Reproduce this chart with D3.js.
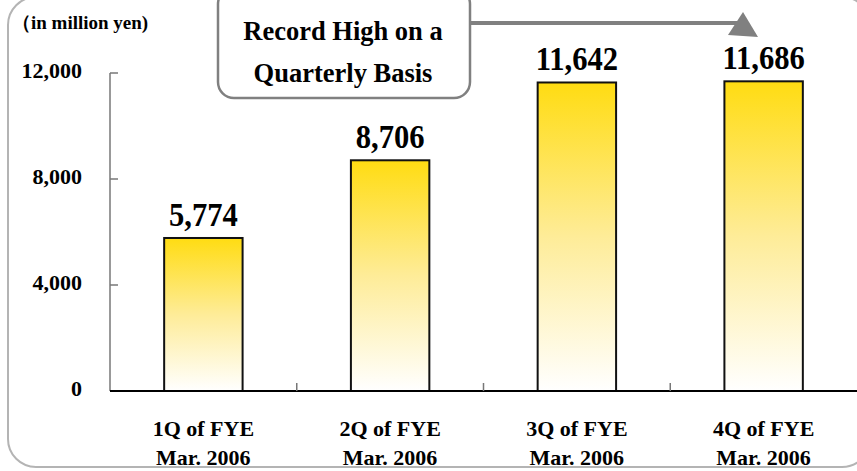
<!DOCTYPE html>
<html>
<head>
<meta charset="utf-8">
<script src="https://cdn.jsdelivr.net/npm/d3@7"></script>
<style>
  html, body { margin: 0; padding: 0; background: #fff; }
  svg { display: block; }
  text { font-family: "Liberation Serif", "Times New Roman", serif; font-weight: bold; fill: #000; }
</style>
</head>
<body>
<script>
// Quarterly figures, in million yen
const categories = ["1Q of FYE|Mar. 2006", "2Q of FYE|Mar. 2006", "3Q of FYE|Mar. 2006", "4Q of FYE|Mar. 2006"];
const values = [5774, 8706, 11642, 11686];
const yTicks = [0, 4000, 8000, 12000];
const unitLabel = "（in million yen)";
const calloutLines = ["Record High on a", "Quarterly Basis"];

const W = 857, H = 471;
const svg = d3.select("body").append("svg").attr("width", W).attr("height", H);

// Bar gradient: golden yellow at the top fading to white at the base
const defs = svg.append("defs");
const grad = defs.append("linearGradient").attr("id", "barFill")
  .attr("x1", 0).attr("y1", 0).attr("x2", 0).attr("y2", 1);
grad.append("stop").attr("offset", "0%").attr("stop-color", "#FFDC12");
grad.append("stop").attr("offset", "50%").attr("stop-color", "#FEEC98");
grad.append("stop").attr("offset", "100%").attr("stop-color", "#FFFFFF");

// Rounded frame around the whole chart
svg.append("rect")
  .attr("x", 8).attr("y", -3).attr("width", 862).attr("height", 470)
  .attr("rx", 28).attr("ry", 28)
  .attr("fill", "none").attr("stroke", "#b4b4b4").attr("stroke-width", 2);

const x = d3.scaleBand().domain(categories).range([110, 857])
  .paddingInner(0.58).paddingOuter(0.29);
const y = d3.scaleLinear().domain([0, 12000]).range([391, 73]);

// Y axis: grey line, inward ticks, labels on the left
const yAxis = svg.append("g");
yAxis.append("line").attr("x1", 110).attr("x2", 110)
  .attr("y1", y(12000)).attr("y2", y(0))
  .attr("stroke", "#777").attr("stroke-width", 1.5);
yAxis.selectAll(".yt").data(yTicks).join("line")
  .attr("x1", 110).attr("x2", 118)
  .attr("y1", d => y(d)).attr("y2", d => y(d))
  .attr("stroke", "#777").attr("stroke-width", 1.5);
yAxis.selectAll(".yl").data(yTicks).join("text")
  .attr("x", 82).attr("y", d => y(d) + 5)
  .attr("text-anchor", "end").attr("font-size", 22)
  .text(d => d3.format(",")(d));

// Unit caption
svg.append("text").attr("x", 12).attr("y", 29).attr("font-size", 19).text(unitLabel);

// Bars
svg.selectAll(".bar").data(values).join("rect")
  .attr("x", (d, i) => x(categories[i]))
  .attr("width", x.bandwidth())
  .attr("y", d => y(d))
  .attr("height", d => y(0) - y(d))
  .attr("fill", "url(#barFill)")
  .attr("stroke", "#111").attr("stroke-width", 2);

// Value labels above bars (slightly condensed, tall numerals)
svg.selectAll(".val").data(values).join("g")
  .attr("transform", (d, i) =>
    `translate(${x(categories[i]) + x.bandwidth() / 2},${y(d) - 12}) scale(0.9,1)`)
  .append("text")
  .attr("text-anchor", "middle").attr("font-size", 34)
  .text(d => d3.format(",")(d));

// X axis baseline and category separators
const step = x.step();
svg.append("line").attr("x1", 110).attr("x2", 857)
  .attr("y1", y(0)).attr("y2", y(0))
  .attr("stroke", "#000").attr("stroke-width", 2);
svg.selectAll(".xt").data(categories.slice(1)).join("line")
  .attr("x1", d => x(d) - (step - x.bandwidth()) / 2)
  .attr("x2", d => x(d) - (step - x.bandwidth()) / 2)
  .attr("y1", y(0)).attr("y2", y(0) - 8)
  .attr("stroke", "#777").attr("stroke-width", 1.5);

// Category labels (two lines each)
const cat = svg.selectAll(".cat").data(categories).join("text")
  .attr("text-anchor", "middle").attr("font-size", 22);
cat.each(function (d) {
  const parts = d.split("|");
  const cx = x(d) + x.bandwidth() / 2;
  d3.select(this).selectAll("tspan").data(parts).join("tspan")
    .attr("x", cx).attr("y", (p, j) => 436 + j * 29).text(p => p);
});

// Arrow from the callout towards the last bar
svg.append("line").attr("x1", 470).attr("x2", 738).attr("y1", 23).attr("y2", 23)
  .attr("stroke", "#808080").attr("stroke-width", 4);
svg.append("path").attr("d", "M728,35 L743,12 L758,37 Z").attr("fill", "#808080");

// Callout box
svg.append("rect").attr("x", 218).attr("y", -12).attr("width", 252).attr("height", 110)
  .attr("rx", 16).attr("ry", 16)
  .attr("fill", "#fff").attr("stroke", "#808080").attr("stroke-width", 2.5);
svg.append("text").attr("font-size", 26.5).attr("text-anchor", "middle")
  .selectAll("tspan").data(calloutLines).join("tspan")
  .attr("x", 343).attr("y", (d, i) => 40 + i * 42).text(d => d);
</script>
</body>
</html>
